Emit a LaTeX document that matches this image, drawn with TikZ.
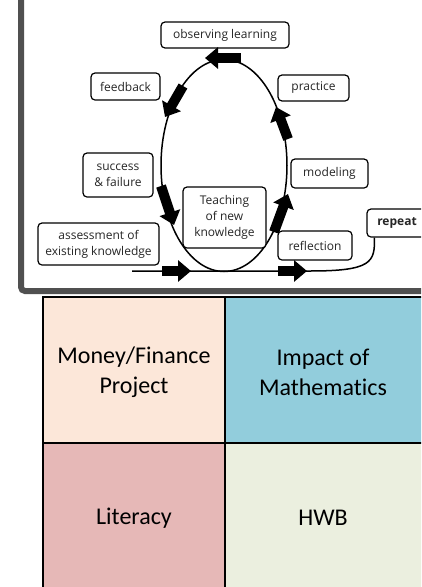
\documentclass[tikz,border=0pt]{standalone}
\usepackage{fontspec}
\setmainfont{Open Sans}
\newfontfamily\gridfont[Ligatures=NoCommon]{Carlito}
\usetikzlibrary{arrows.meta,calc}
\definecolor{framegrey}{HTML}{505050}
\definecolor{cellA}{HTML}{FCE7D9}
\definecolor{cellB}{HTML}{92CDDC}
\definecolor{cellC}{HTML}{E6B8B7}
\definecolor{cellD}{HTML}{EBEFDF}
\tikzset{
  stagebox/.style={draw, line width=1.2pt, rounded corners=4pt, fill=white, inner sep=0pt,
    align=center, font=\fontsize{12}{16}\selectfont, text=black!85},
  blockarrow/.style={line width=10pt, -{Triangle[length=13pt,width=21pt]}},
  loopline/.style={line width=1.5pt},
  celltext/.style={align=center, font=\gridfont\fontsize{24}{30}\selectfont}
}
\begin{document}
\begin{tikzpicture}[x=1pt,y=-1pt]
\clip (0,0) rectangle (421,587);
\fill[white] (0,0) rectangle (421,587);
% frame
\draw[framegrey, line width=6pt, rounded corners=4pt] (21,-10) -- (21,291) -- (440,291);
% grid
\fill[cellA] (43,297) rectangle (225,443);
\fill[cellB] (225,297) rectangle (440,443);
\fill[cellC] (43,443) rectangle (225,600);
\fill[cellD] (225,443) rectangle (440,600);
\draw[line width=1.5pt] (43,297) rectangle (440,600);
\draw[line width=1.5pt] (225,297) -- (225,600);
\draw[line width=1.5pt] (43,443) -- (440,443);
\node[celltext] (money) at (134,372) {Money/Finance\\Project};
\node[celltext] (impact) at (323,372) {Impact of\\Mathematics};
\node[celltext] (literacy) at (134,518) {Literacy};
\node[celltext] (hwb) at (323,518) {HWB};
% loop
\draw[loopline] (224,165.5) ellipse [x radius=63pt, y radius=106pt];
\coordinate (lstart) at (132,271);
\coordinate (lmid) at (310,271);
% boxes
\node[stagebox, minimum width=128pt, minimum height=26pt] (obs) at (225,35) {observing learning};
\node[stagebox, minimum width=69pt, minimum height=27pt] (feed) at (125.5,86.5) {feedback};
\node[stagebox, minimum width=71pt, minimum height=26pt] (prac) at (313.5,88) {practice};
\node[stagebox, minimum width=70pt, minimum height=44pt] (succ) at (118,175) {success\\\& failure};
\node[stagebox, minimum width=77pt, minimum height=29pt] (model) at (329.5,173.5) {modeling};
\node[stagebox, minimum width=83pt, minimum height=61pt] (teach) at (224.5,217.5) {Teaching\\of new\\knowledge};
\node[stagebox, minimum width=121pt, minimum height=42pt] (assess) at (98.5,244) {assessment of\\existing knowledge};
\node[stagebox, minimum width=74pt, minimum height=29pt] (refl) at (315,245.5) {reflection};
\node[stagebox, minimum width=60pt, minimum height=28pt, font=\bfseries\fontsize{12}{16}\selectfont] (rep) at (397,223) {repeat};
\coordinate (repfoot) at ($(rep.south west)+(8,0)$);
\draw[loopline] (lstart) -- (lmid) .. controls (372,271) and (375,262) .. (repfoot);
% block arrows
\coordinate (a1s) at (241,58); \coordinate (a1e) at (205,58);
\coordinate (a2s) at (183,86); \coordinate (a2e) at (165,117);
\coordinate (a3s) at (161,186); \coordinate (a3e) at (174,225);
\coordinate (a4s) at (274,232); \coordinate (a4e) at (288,194);
\coordinate (a5s) at (288,139); \coordinate (a5e) at (276,107);
\coordinate (a6s) at (162,271); \coordinate (a6e) at (191,271);
\coordinate (a7s) at (278,271); \coordinate (a7e) at (307,271);
\foreach \i in {1,...,7} {\draw[blockarrow] (a\i s) -- (a\i e);}
\end{tikzpicture}
\end{document}
